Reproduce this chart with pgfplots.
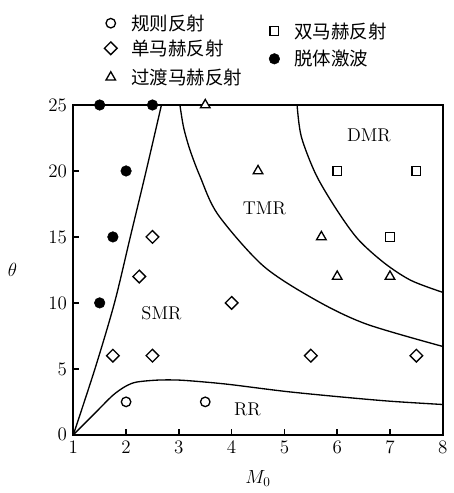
\documentclass[border=0pt]{standalone}
\usepackage{fontspec}
\usepackage{pgfplots}
\pgfplotsset{compat=1.18}
\newfontfamily\cjk{Noto Sans CJK SC}
\begin{document}
\fontsize{14}{16}\selectfont
\begin{tikzpicture}
\begin{axis}[
  scale only axis,
  width=279.75pt, height=249.75pt,
  xmin=1, xmax=8, ymin=0, ymax=25,
  xtick={1,2,...,8}, ytick={0,5,...,25},
  tick align=inside, xtick pos=bottom, ytick pos=left,
  major tick length=4.5pt,
  axis line style={line width=1.3pt},
  tick style={line width=1.1pt, black},
  xlabel={$M_0$}, ylabel={$\theta$},
  ylabel style={rotate=-90},
  every axis x label/.style={at={(rel axis cs:0.5,0)}, anchor=north, yshift=-22.5pt},
  every axis y label/.style={at={(rel axis cs:0,0.5)}, anchor=center, xshift=-46pt},
  clip=false,
]
% boundaries
\addplot[black, line width=1pt, smooth] coordinates {(1,0) (1.41,5) (1.78,10) (2.08,15) (2.38,20) (2.67,25)};
\addplot[black, line width=1pt, smooth, tension=0.5] coordinates {(3.02,25) (3.09,23.3) (3.21,21.6) (3.4,19.6) (3.74,16.7) (4.6,12.8) (5.6,10.2) (6.55,8.4) (8,6.7)};
\addplot[black, line width=1pt, smooth, tension=0.5] coordinates {(5.24,25) (5.32,22.6) (5.6,19.7) (6.0,17.0) (6.4,14.8) (6.9,13.0) (7.4,11.7) (8,10.8)};
\addplot[black, line width=1pt, smooth] coordinates {(1,0) (1.4,1.6) (1.75,3.0) (2.0,3.7) (2.2,4.0) (2.6,4.15) (3.0,4.15) (3.5,4.0) (4,3.8) (5,3.3) (6,2.9) (7,2.55) (8,2.3)};
% data points
\addplot[only marks, mark=*, mark size=4pt, black] coordinates {(1.5,25) (2.5,25) (2,20) (1.75,15) (1.5,10)};
\addplot[only marks, black, mark=square*, mark size=3.4pt, mark options={rotate=45, line width=1pt, fill=white}] coordinates {(2.5,15) (2.25,12) (1.75,6) (2.5,6) (4,10) (5.5,6) (7.5,6)};
\addplot[only marks, black, mark=triangle*, mark size=4.2pt, mark options={line width=1pt, fill=white}] coordinates {(3.5,25) (4.5,20) (5.7,15) (6,12) (7,12)};
\addplot[only marks, black, mark=square*, mark size=3.3pt, mark options={line width=1pt, fill=white}] coordinates {(6,20) (7.5,20) (7,15)};
\addplot[only marks, black, mark=*, mark size=3.6pt, mark options={line width=1pt, fill=white}] coordinates {(2,2.5) (3.5,2.5)};
% legend markers
\addplot[only marks, black, mark=*, mark size=3.6pt, mark options={line width=1pt, fill=white}] coordinates {(1.71,31.2)};
\addplot[only marks, black, mark=square*, mark size=3.4pt, mark options={rotate=45, line width=1pt, fill=white}] coordinates {(1.71,29.3)};
\addplot[only marks, black, mark=triangle*, mark size=4.2pt, mark options={line width=1pt, fill=white}] coordinates {(1.71,27.1)};
\addplot[only marks, black, mark=square*, mark size=3.3pt, mark options={line width=1pt, fill=white}] coordinates {(4.81,30.6)};
\addplot[only marks, mark=*, mark size=4pt, black] coordinates {(4.81,28.5)};
\node[anchor=west, inner sep=0pt] at (axis cs:2.09,31.2) {\cjk 规则反射};
\node[anchor=west, inner sep=0pt] at (axis cs:2.09,29.3) {\cjk 单马赫反射};
\node[anchor=west, inner sep=0pt] at (axis cs:2.09,27.1) {\cjk 过渡马赫反射};
\node[anchor=west, inner sep=0pt] at (axis cs:5.18,30.6) {\cjk 双马赫反射};
\node[anchor=west, inner sep=0pt] at (axis cs:5.18,28.5) {\cjk 脱体激波};
% region labels
\node at (axis cs:6.6,22.7) {DMR};
\node at (axis cs:4.62,17.2) {TMR};
\node at (axis cs:2.67,9.2) {SMR};
\node at (axis cs:4.3,1.9) {RR};
% bounding box
\path (rel axis cs:0,0) ++(-55.5pt,-40.5pt);
\path (rel axis cs:1,1) ++(3.75pt,79.5pt);
\end{axis}
\end{tikzpicture}
\end{document}
